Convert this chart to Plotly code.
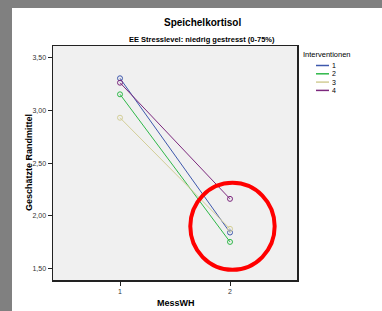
import plotly.graph_objects as go

# Data
mess_wh = [1, 2]
interventionen = ["1", "2", "3", "4"]
values = {
    "1": [3.305, 1.843],
    "2": [3.153, 1.754],
    "3": [2.931, 1.878],
    "4": [3.263, 2.162],
}
colors = ["#3E58AC", "#2EB848", "#D3CE97", "#7C287D"]
y_ticks = [1.5, 2.0, 2.5, 3.0, 3.5]

FONT = "Arial, Liberation Sans, sans-serif"

fig = go.Figure()
for name, col in zip(interventionen, colors):
    fig.add_trace(go.Scatter(
        x=mess_wh, y=values[name], mode="lines+markers", name=name,
        line=dict(color=col, width=1),
        marker=dict(symbol="circle-open", size=5, color=col, line=dict(width=1, color=col)),
        showlegend=False,
    ))

# plot-area geometry in pixels: x 53..297, y 46..280
L, R, T, B = 53, 297, 46, 280
W, H = 382, 311
def px(xp):
    return (xp - L) / (R - L)
def py(yp):
    return (B - yp) / (B - T)

shapes = []
# gray strips (page background)
shapes.append(dict(type="rect", xref="paper", yref="paper", x0=px(0), x1=px(W), y0=py(0), y1=py(8),
                   fillcolor="#808080", line=dict(width=0), layer="above"))
shapes.append(dict(type="rect", xref="paper", yref="paper", x0=px(0), x1=px(12), y0=py(0), y1=py(H),
                   fillcolor="#808080", line=dict(width=0), layer="above"))
# red highlighting circle
shapes.append(dict(type="circle", xref="x", yref="y", x0=1.639, x1=2.406, y0=1.489, y1=2.314,
                   line=dict(color="#FF0000", width=4), layer="above"))

annotations = []
# manual legend
annotations.append(dict(text="Interventionen", xref="paper", yref="paper", x=px(301), y=py(54),
                        xanchor="left", yanchor="middle", showarrow=False,
                        font=dict(family=FONT, size=7.5, color="#000")))
for i, (name, col) in enumerate(zip(interventionen, colors)):
    yy = 65.5 + i * 8.3
    shapes.append(dict(type="line", xref="paper", yref="paper", x0=px(316), x1=px(329), y0=py(yy), y1=py(yy),
                       line=dict(color=col, width=1.5)))
    annotations.append(dict(text=name, xref="paper", yref="paper", x=px(330), y=py(yy),
                            xanchor="left", yanchor="middle", showarrow=False,
                            font=dict(family=FONT, size=7, color="#000")))
# titles
annotations.append(dict(text="<b>Speichelkortisol</b>", xref="paper", yref="paper", x=px(202), y=py(23),
                        xanchor="center", yanchor="middle", showarrow=False,
                        font=dict(family=FONT, size=10, color="#000")))
annotations.append(dict(text="<b>EE Stresslevel: niedrig gestresst (0-75%)</b>", xref="paper", yref="paper",
                        x=px(202), y=py(39), xanchor="center", yanchor="middle", showarrow=False,
                        font=dict(family=FONT, size=7.5, color="#000")))
annotations.append(dict(text="<b>Geschätzte Randmittel</b>", xref="paper", yref="paper", x=px(29), y=py(163),
                        xanchor="center", yanchor="middle", showarrow=False, textangle=-90,
                        font=dict(family=FONT, size=9, color="#000")))
annotations.append(dict(text="<b>MessWH</b>", xref="paper", yref="paper", x=px(175.5), y=py(303),
                        xanchor="center", yanchor="middle", showarrow=False,
                        font=dict(family=FONT, size=9, color="#000")))

fig.update_layout(
    width=W, height=H,
    margin=dict(l=L, r=W - R, t=T, b=H - B, pad=0),
    paper_bgcolor="#FFFFFF", plot_bgcolor="#F0F0F0",
    separators=",.",
    font=dict(family=FONT, size=7, color="#333"),
    shapes=shapes, annotations=annotations,
    xaxis=dict(range=[0.391, 2.609], tickvals=mess_wh, ticktext=["1", "2"],
               showgrid=False, zeroline=False, showline=True, linecolor="#222", linewidth=1.5,
               mirror=True, ticks="outside", ticklen=4, tickcolor="#222", tickwidth=1,
               tickfont=dict(size=7, color="#333")),
    yaxis=dict(range=[1.393, 3.611], tickvals=y_ticks, tickformat=".2f",
               showgrid=False, zeroline=False, showline=True, linecolor="#222", linewidth=1.5,
               mirror=True, ticks="outside", ticklen=4, tickcolor="#222", tickwidth=1,
               tickfont=dict(size=7, color="#333")),
)

fig.write_html(
    "out.html",
    config={"displayModeBar": False, "staticPlot": True},
    post_script="document.body.style.margin='0';document.body.style.padding='0';document.body.style.overflow='hidden';",
)
